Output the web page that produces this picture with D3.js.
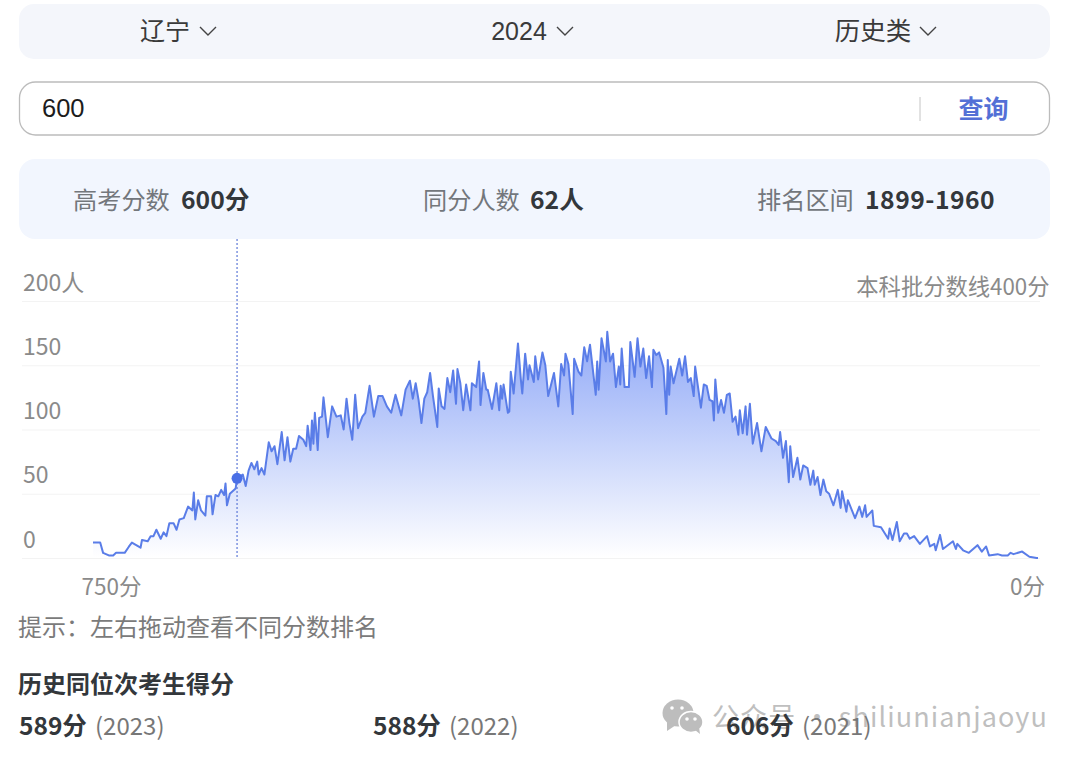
<!DOCTYPE html>
<html><head><meta charset="utf-8">
<script src="https://cdn.jsdelivr.net/npm/d3@7/dist/d3.min.js"></script>
<style>html,body{margin:0;padding:0;background:#fff}svg{display:block}text{font-family:"Noto Sans CJK SC","Noto Sans",sans-serif}</style>
</head><body><div id="c"></div>
<script>
const scores=[700,695,693,689,686,684,680,678,675,673,670,667,666,662,660,658,656,653,651,649,647,644,642,640,637,634,631,630,629,627,625,622,621,618,617,615,613,611,609,608,607,605,601,600,596,594,592,590,588,586,585,583,581,578,576,574,572,569,567,565,563,561,559,557,554,552,551,549,548,547,546,544,543,541,540,537,534,531,528,526,524,522,520,518,516,513,511,508,505,502,499,496,493,490,486,483,480,478,476,474,472,470,468,466,464,461,460,458,456,454,452,450,448,447,445,443,441,438,437,434,432,431,429,427,426,423,420,418,417,416,415,412,411,410,408,405,403,402,400,398,397,394,393,391,388,386,384,380,377,375,373,372,370,367,366,363,361,359,357,355,351,350,349,347,344,343,341,339,337,335,334,333,331,328,327,324,322,320,318,316,314,312,311,309,307,304,302,301,300,299,297,293,291,289,287,285,283,282,278,276,274,272,270,269,268,266,264,262,260,258,256,254,252,251,249,247,246,244,242,239,236,233,229,226,224,223,221,219,217,216,214,211,209,207,204,202,200,199,197,195,193,191,189,186,183,181,180,177,176,171,168,166,164,163,159,158,153,148,147,145,142,140,137,135,133,130,126,121,119,116,115,112,110,103,101,100,96,92,86,83,80,78,72,69,65,63,61,55,50,45,44];
const counts=[12,12,4,2,2,4,4,4,9,12,10,8,14,13,17,17,22,15,20,17,27,27,22,30,31,40,37,51,30,45,37,33,48,48,34,49,48,53,49,58,41,50,54,62,65,56,68,74,69,75,65,70,65,90,83,87,73,98,76,94,75,85,85,95,92,87,103,84,107,89,113,84,109,110,125,94,118,110,111,100,124,105,92,127,101,110,113,134,110,126,126,118,113,127,111,131,138,124,136,123,105,124,129,144,126,102,132,118,116,140,129,146,120,147,136,115,135,115,136,133,153,119,144,131,131,116,136,115,134,124,135,113,114,145,128,167,139,128,159,139,150,137,157,139,160,150,126,144,118,151,142,159,151,112,155,145,142,164,153,166,127,153,131,171,153,176,153,159,133,149,135,163,133,133,168,141,171,149,163,140,157,133,162,158,160,148,112,154,127,149,136,155,142,157,137,140,126,149,117,135,134,123,122,107,139,113,123,113,127,128,106,110,96,115,97,118,96,120,89,105,83,102,93,91,88,98,78,91,59,87,63,78,61,72,70,57,68,57,63,49,61,52,50,41,53,39,52,36,45,31,40,32,41,32,37,25,24,15,23,14,28,13,19,19,15,17,11,17,9,11,6,18,7,13,7,11,6,4,10,5,9,2,3,2,2,4,3,5,1,0,0];
const yTicks=[0,50,100,150,200];
const xLabels=["750分","0分"];
const highlightScore=600, highlightCount=62;
const filters=["辽宁","2024","历史类"];
const searchValue="600", searchButton="查询";
const stats=[["高考分数","600分"],["同分人数","62人"],["排名区间","1899-1960"]];
const history=[["589分","(2023)"],["588分","(2022)"],["606分","(2021)"]];

const W=1080,H=759;
const svg=d3.select("#c").append("svg").attr("width",W).attr("height",H);
const defs=svg.append("defs");
const grad=defs.append("linearGradient").attr("id","g").attr("x1",0).attr("x2",0).attr("y1",0).attr("y2",1);
grad.append("stop").attr("offset","0%").attr("stop-color","#8fa8f7");
grad.append("stop").attr("offset","100%").attr("stop-color","#ffffff");

// panels
svg.append("rect").attr("x",19).attr("y",4).attr("width",1031).attr("height",55).attr("rx",15).attr("fill","#f4f6fb");
svg.append("rect").attr("x",19.5).attr("y",82).attr("width",1030).attr("height",53).attr("rx",16).attr("fill","#fff").attr("stroke","#bcbcbc").attr("stroke-width",1.3);
svg.append("rect").attr("x",19).attr("y",159).attr("width",1031).attr("height",80).attr("rx",16).attr("fill","#f2f6fe");

// filters
const fx=[165,519,873], chev=[208,565,928];
filters.forEach((f,i)=>{
  svg.append("text").attr("x",fx[i]).attr("y",40).attr("text-anchor","middle").attr("font-size",i===2?25.5:25).attr("fill","#3a3a3a").style("font-family",i===1?'"Liberation Sans",sans-serif':null).text(f);
  svg.append("path").attr("d",`M${chev[i]-8},27 L${chev[i]},35 L${chev[i]+8},27`).attr("fill","none").attr("stroke","#444").attr("stroke-width",1.4);
});
svg.append("text").attr("x",42).attr("y",117).attr("font-size",25.5).attr("fill","#1c1c1c").style("font-family",'"Liberation Sans",sans-serif').text(searchValue);
svg.append("line").attr("x1",920).attr("x2",920).attr("y1",97).attr("y2",121).attr("stroke","#c4c4c4");
svg.append("text").attr("x",983.5).attr("y",118).attr("text-anchor","middle").attr("font-size",25).attr("font-weight",700).attr("fill","#5470d6").text(searchButton);

const sx=[[73,181],[423,530],[757,865]];
stats.forEach((s,i)=>{
  svg.append("text").attr("x",sx[i][0]).attr("y",209).attr("font-size",24.2).attr("fill","#73777c").text(s[0]);
  svg.append("text").attr("x",sx[i][1]).attr("y",209).attr("font-size",24.7).attr("font-weight",700).attr("letter-spacing",i===2?0.5:0).attr("fill","#33373b").text(s[1]);
});

// chart
const x=d3.scaleLinear().domain([700,44]).range([93,1038]);
const y=d3.scaleLinear().domain([0,200]).range([558,301]);
const gridG=svg.append("g").call(d3.axisLeft(y).tickValues(yTicks).tickSize(0).tickFormat(d=>d===200?"200人":d));
gridG.select(".domain").remove();
gridG.selectAll(".tick text").attr("x",23).attr("y",-11).attr("dy",0).attr("text-anchor","start").attr("font-size",23).attr("fill","#8a8a8a").style("font-family",'"Noto Sans CJK SC","Noto Sans",sans-serif');
gridG.selectAll(".tick").append("line").attr("x1",22).attr("x2",1040).attr("stroke","#f3f3f3").attr("stroke-width",1.2);

const pts=scores.map((s,i)=>[s,counts[i]]);
const area=d3.area().x(d=>x(d[0])).y0(y(0)).y1(d=>y(d[1]));
const line=d3.line().x(d=>x(d[0])).y(d=>y(d[1]));
svg.append("path").datum(pts).attr("d",area).attr("fill","url(#g)");
svg.append("path").datum(pts).attr("d",line).attr("fill","none").attr("stroke","#5a7de8").attr("stroke-width",2).attr("stroke-linejoin","round");
svg.append("line").attr("x1",x(highlightScore)).attr("x2",x(highlightScore)).attr("y1",239).attr("y2",558).attr("stroke","#5d79d8").attr("stroke-width",1.2).attr("stroke-dasharray","2,2");
svg.append("circle").attr("cx",x(highlightScore)).attr("cy",y(highlightCount)).attr("r",5.5).attr("fill","#4a6fe6");

svg.append("text").attr("x",1049.5).attr("y",295).attr("text-anchor","end").attr("font-size",22.3).attr("fill","#8a8a8a").text("本科批分数线400分");
const xl=d3.scalePoint().domain(xLabels).range([111,1027]);
const xg=svg.append("g").attr("transform","translate(0,558)").call(d3.axisBottom(xl).tickSize(0));
xg.select(".domain").remove();
xg.selectAll(".tick text").attr("y",37).attr("dy",0).attr("font-size",22.5).attr("fill","#8a8a8a").style("font-family",'"Noto Sans CJK SC","Noto Sans",sans-serif');

svg.append("text").attr("x",18).attr("y",636).attr("font-size",24).attr("fill","#7b7b7b").text("提示：左右拖动查看不同分数排名");
svg.append("text").attr("x",18).attr("y",693).attr("font-size",24).attr("font-weight",700).attr("fill","#33373b").text("历史同位次考生得分");

// watermark
const wm=svg.append("g").attr("fill","#bdbdbd");
wm.append("ellipse").attr("cx",678).attr("cy",713).attr("rx",15.5).attr("ry",13.5);
wm.append("path").attr("d","M667,722 L667,731 L676,725 Z");
wm.append("ellipse").attr("cx",691).attr("cy",722).attr("rx",12).attr("ry",10.5).attr("fill","#bdbdbd").attr("stroke","#fff").attr("stroke-width",1.5);
wm.append("path").attr("d","M695,730 L700,734 L699,727 Z");
wm.selectAll("circle").data([[672,708],[682,708],[687,719],[695,719]]).join("circle").attr("cx",d=>d[0]).attr("cy",d=>d[1]).attr("r",1.8).attr("fill","#fff");
svg.append("text").attr("x",712).attr("y",727).attr("font-size",27).attr("letter-spacing",1.1).attr("fill","#bfbfbf").text("公众号 · shiliunianjaoyu");

const hx=[[19,95],[373,449],[726,802]];
history.forEach((h,i)=>{
  svg.append("text").attr("x",hx[i][0]).attr("y",735).attr("font-size",24.5).attr("font-weight",700).attr("fill","#33373b").text(h[0]);
  svg.append("text").attr("x",hx[i][1]).attr("y",735).attr("font-size",24).attr("fill","#777").text(h[1]);
});
</script></body></html>
